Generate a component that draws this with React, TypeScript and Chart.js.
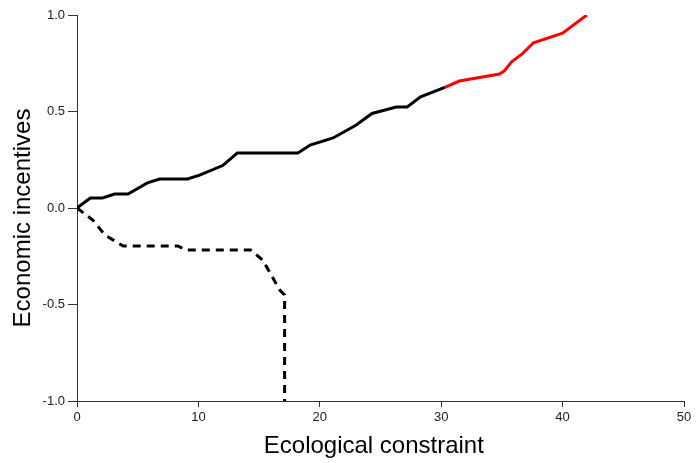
import React, { useEffect, useRef } from "react";
import { Chart, registerables } from "chart.js";

Chart.register(...registerables);

const solidX = [0, 1.1, 2.1, 3.1, 4.2, 5.8, 6.8, 9.1, 10.1, 12.0, 13.2, 18.2, 19.2, 21.1, 23.0, 24.3, 26.3, 27.2, 28.3, 30.3];
const solidY = [0, 0.052, 0.052, 0.072, 0.072, 0.13, 0.15, 0.15, 0.17, 0.22, 0.285, 0.285, 0.326, 0.363, 0.43, 0.49, 0.523, 0.523, 0.576, 0.625];
const redX = [30.3, 31.5, 34.8, 35.2, 35.8, 36.7, 37.6, 40.0, 42.0];
const redY = [0.625, 0.658, 0.694, 0.71, 0.757, 0.8, 0.856, 0.906, 1.0];
const dashX = [0, 1.3, 2.3, 3.8, 8.3, 9.0, 14.3, 15.3, 16.7, 17.1, 17.1];
const dashY = [0, -0.062, -0.14, -0.197, -0.197, -0.218, -0.218, -0.27, -0.425, -0.45, -1.0];

const xTitle = "Ecological constraint  ";
const yTitle = "Economic incentives   ";

const pts = (xs: number[], ys: number[]) => xs.map((x, i) => ({ x, y: ys[i] }));

export default function App() {
  const ref = useRef<HTMLCanvasElement | null>(null);
  useEffect(() => {
    if (!ref.current) return;
    const axisColor = "#333";
    const fam = "Liberation Sans, Arial";
    const chart = new Chart(ref.current, {
      type: "line",
      data: {
        datasets: [
          { data: pts(solidX, solidY), borderColor: "#000", borderWidth: 3, pointRadius: 0, tension: 0 },
          { data: pts(redX, redY), borderColor: "#ff0000", borderWidth: 3, pointRadius: 0, tension: 0 },
          { data: pts(dashX, dashY), borderColor: "#000", borderWidth: 3, borderDash: [8, 6], pointRadius: 0, tension: 0 },
        ],
      },
      options: {
        animation: false,
        responsive: false,
        devicePixelRatio: 1,
        layout: { padding: { top: 15, right: 12, left: 0, bottom: 0 } },
        plugins: { legend: { display: false }, tooltip: { enabled: false } },
        scales: {
          x: {
            type: "linear",
            min: 0,
            max: 50,
            ticks: { stepSize: 10, color: "#222", font: { family: fam, size: 13 }, padding: 3, maxRotation: 0 },
            grid: { drawOnChartArea: false, drawTicks: true, tickLength: 6, color: axisColor },
            border: { display: true, color: axisColor, width: 1 },
            title: { display: true, text: xTitle, color: "#000", font: { family: fam, size: 24 }, padding: { top: 4, bottom: 2 } },
            afterFit: (s: any) => { s.height = 62; },
          },
          y: {
            type: "linear",
            min: -1,
            max: 1,
            ticks: { stepSize: 0.5, color: "#222", font: { family: fam, size: 13 }, padding: 3, callback: (v: any) => Number(v).toFixed(1) },
            grid: { drawOnChartArea: false, drawTicks: true, tickLength: 9, color: axisColor },
            border: { display: true, color: axisColor, width: 1 },
            title: { display: true, text: yTitle, color: "#000", font: { family: fam, size: 24 }, padding: { top: 9, bottom: 0 } },
            afterFit: (s: any) => { s.width = 77; },
          },
        },
      },
    });
    return () => chart.destroy();
  }, []);
  return (
    <div style={{ position: "fixed", left: 0, top: 0, width: 696, height: 463, background: "#fff" }}>
      <canvas ref={ref} width={696} height={463} style={{ width: 696, height: 463 }} />
    </div>
  );
}
